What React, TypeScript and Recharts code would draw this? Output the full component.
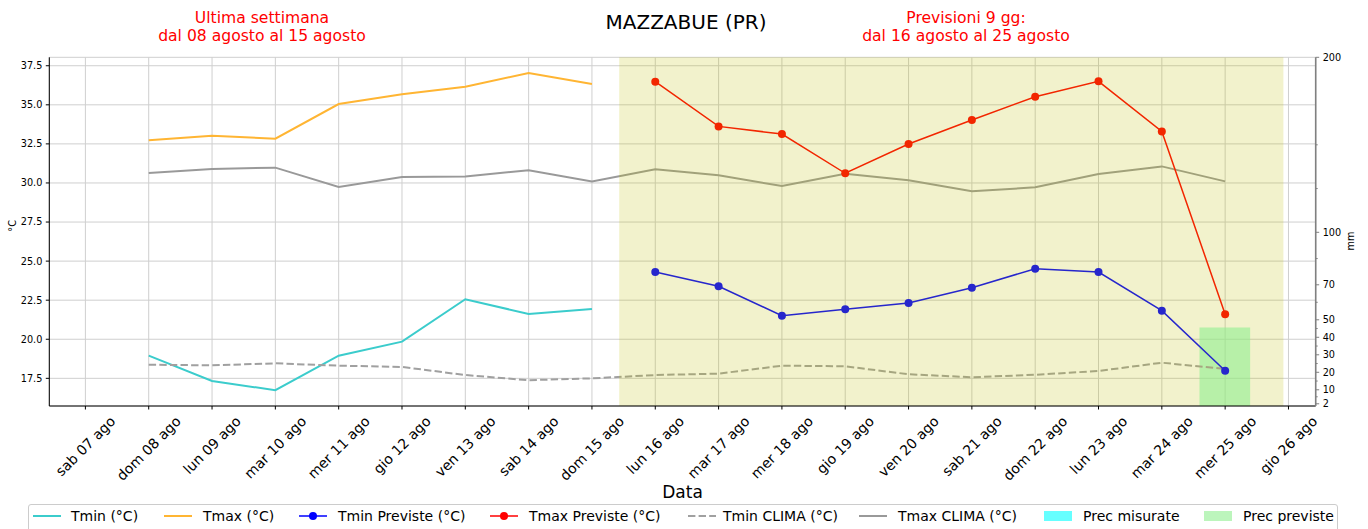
import React from 'react';
import { ComposedChart, Line, Bar, XAxis, YAxis, CartesianGrid, ReferenceArea } from 'recharts';

// ---- data ----
const days = [8, 9, 10, 11, 12, 13, 14, 15, 16, 17, 18, 19, 20, 21, 22, 23, 24, 25];
const tickDays = [7, 8, 9, 10, 11, 12, 13, 14, 15, 16, 17, 18, 19, 20, 21, 22, 23, 24, 25, 26];
const tickLabels = [
  'sab 07 ago', 'dom 08 ago', 'lun 09 ago', 'mar 10 ago', 'mer 11 ago', 'gio 12 ago', 'ven 13 ago',
  'sab 14 ago', 'dom 15 ago', 'lun 16 ago', 'mar 17 ago', 'mer 18 ago', 'gio 19 ago', 'ven 20 ago',
  'sab 21 ago', 'dom 22 ago', 'lun 23 ago', 'mar 24 ago', 'mer 25 ago', 'gio 26 ago',
];
const N = null;
const tmin = [18.95, 17.33, 16.74, 18.95, 19.85, 22.56, 21.62, 21.94, N, N, N, N, N, N, N, N, N, N];
const tmax = [32.73, 33.02, 32.83, 35.05, 35.67, 36.16, 37.03, 36.33, N, N, N, N, N, N, N, N, N, N];
const tminPrev = [N, N, N, N, N, N, N, N, 24.3, 23.39, 21.51, 21.92, 22.32, 23.3, 24.51, 24.3, 21.83, 17.99];
const tmaxPrev = [N, N, N, N, N, N, N, N, 36.48, 33.62, 33.13, 30.62, 32.49, 34.03, 35.52, 36.5, 33.3, 21.6];
const tminClima = [18.37, 18.33, 18.46, 18.31, 18.23, 17.71, 17.38, 17.5, 17.71, 17.8, 18.31, 18.27, 17.76, 17.57, 17.73, 17.97, 18.5, 18.1];
const tmaxClima = [30.64, 30.89, 30.98, 29.74, 30.38, 30.42, 30.81, 30.1, 30.87, 30.49, 29.8, 30.59, 30.17, 29.47, 29.72, 30.57, 31.06, 30.1];
const precMisurate = [0, 0, 0, 0, 0, 0, 0, 0, N, N, N, N, N, N, N, N, N, N];
const precPreviste = [N, N, N, N, N, N, N, N, 0, 0, 0, 0, 0, 0, 0, 0, 0, 45.6];

const leftTicks = [17.5, 20, 22.5, 25, 27.5, 30, 32.5, 35, 37.5];
const rightMajor = [2, 10, 20, 30, 40, 50, 70, 100, 200];
const rightMinor = [6, 15, 25, 35, 45, 60, 85, 125, 150];
const forecastStart = 15.43;
const forecastEnd = 25.92;

const data = days.map((d, i) => ({
  day: d,
  tmin: tmin[i],
  tmax: tmax[i],
  tminPrev: tminPrev[i],
  tmaxPrev: tmaxPrev[i],
  tminClima: tminClima[i],
  tmaxClima: tmaxClima[i],
  precMisurate: precMisurate[i],
  precPreviste: precPreviste[i],
}));

const FONT = '"DejaVu Sans", Verdana, sans-serif';

// plot geometry (for the shade boundary in the stroke gradient)
const PLOT_LEFT = 49.3;
const PLOT_RIGHT = 1315.7;
const X_MIN = 6.43;
const X_MAX = 26.43;
const shadeFrac = (PLOT_LEFT + ((forecastStart - X_MIN) / (X_MAX - X_MIN)) * (PLOT_RIGHT - PLOT_LEFT)) / 1368;

let ctx: CanvasRenderingContext2D | null = null;
function measure(text: string, size: number): number {
  if (!ctx) {
    const c = document.createElement('canvas');
    ctx = c.getContext('2d');
  }
  if (!ctx) return text.length * size * 0.55;
  ctx.font = `${size}px "DejaVu Sans"`;
  return ctx.measureText(text).width;
}

const XTick = (props: any) => {
  const { x, y, payload } = props;
  const idx = tickDays.indexOf(payload.value);
  const label = idx >= 0 ? tickLabels[idx] : '';
  const fs = 14;
  const L = measure(label, fs);
  const h = fs * 1.164;
  const half = ((L + h) * Math.SQRT1_2) / 2;
  const cy = y + half;
  return (
    <text
      x={x}
      y={cy}
      textAnchor="middle"
      dominantBaseline="central"
      transform={`rotate(-45 ${x} ${cy})`}
      fontSize={fs}
      fontFamily={FONT}
      fill="#000"
    >
      {label}
    </text>
  );
};

const RTick = (props: any) => {
  const { x, y, payload } = props;
  const v = payload.value;
  const major = rightMajor.includes(v);
  const ax = x - 7;
  return (
    <g>
      <line x1={ax} x2={ax + (major ? 3.5 : 2)} y1={y} y2={y} stroke="#808080" strokeWidth={1} />
      {major && (
        <text x={x} y={y} dominantBaseline="central" textAnchor="start" fontSize={9.7} fontFamily={FONT} fill="#000">
          {v}
        </text>
      )}
    </g>
  );
};

const legendItems = [
  { label: 'Tmin (°C)', kind: 'line', color: '#3bcccc', hx: 33, tx: 71 },
  { label: 'Tmax (°C)', kind: 'line', color: '#ffb533', hx: 164, tx: 203 },
  { label: 'Tmin Previste (°C)', kind: 'dot', color: '#0000ff', hx: 299, tx: 338 },
  { label: 'Tmax Previste (°C)', kind: 'dot', color: '#ff0000', hx: 490, tx: 529 },
  { label: 'Tmin CLIMA (°C)', kind: 'dash', color: '#a0a0a0', hx: 688, tx: 723 },
  { label: 'Tmax CLIMA (°C)', kind: 'line', color: '#999999', hx: 859, tx: 898 },
  { label: 'Prec misurate', kind: 'patch', color: 'rgba(0,255,255,0.6)', hx: 1044, tx: 1083 },
  { label: 'Prec previste', kind: 'patch', color: 'rgba(144,238,144,0.6)', hx: 1204, tx: 1243 },
];

export default function App() {
  return (
    <div
      style={{
        position: 'absolute',
        left: 0,
        top: 0,
        width: 1368,
        height: 529,
        background: '#fff',
        overflow: 'hidden',
        fontFamily: FONT,
      }}
    >
      <ComposedChart width={1368} height={529} data={data} margin={{ top: 57.3, right: 0, bottom: 0, left: 0 }}>
        <defs>
          <linearGradient id="gTmaxClima" gradientUnits="userSpaceOnUse" x1={0} y1={0} x2={1368} y2={0}>
            <stop offset={shadeFrac} stopColor="#999999" />
            <stop offset={shadeFrac} stopColor="#a1a17a" />
          </linearGradient>
          <linearGradient id="gTminClima" gradientUnits="userSpaceOnUse" x1={0} y1={0} x2={1368} y2={0}>
            <stop offset={shadeFrac} stopColor="#a0a0a0" />
            <stop offset={shadeFrac} stopColor="#a6a680" />
          </linearGradient>
        </defs>
        <CartesianGrid yAxisId="left" stroke="#cfcfcf" strokeWidth={1} />
        <XAxis
          dataKey="day"
          type="number"
          domain={[X_MIN, X_MAX]}
          allowDataOverflow
          ticks={tickDays}
          interval={0}
          height={123}
          tickSize={3.5}
          tickMargin={3.5}
          tick={<XTick />}
          tickLine={{ stroke: '#000' }}
          axisLine={{ stroke: '#000', strokeWidth: 1 }}
        />
        <XAxis
          xAxisId="top"
          orientation="top"
          type="number"
          dataKey="day"
          domain={[X_MIN, X_MAX]}
          allowDataOverflow
          height={0}
          tick={false}
          tickLine={false}
          axisLine={{ stroke: '#000', strokeWidth: 1 }}
        />
        <YAxis
          yAxisId="left"
          type="number"
          domain={[15.73, 38.04]}
          allowDataOverflow
          ticks={leftTicks}
          interval={0}
          width={PLOT_LEFT}
          tickSize={3.5}
          tickMargin={3.5}
          tickFormatter={(v: number) => v.toFixed(1)}
          tick={{ fontSize: 9.7, fill: '#000', fontFamily: FONT }}
          tickLine={{ stroke: '#000' }}
          axisLine={{ stroke: '#000', strokeWidth: 1 }}
          label={{ value: '°C', angle: -90, position: 'insideLeft', offset: 13, fontSize: 9.7, fill: '#000', fontFamily: FONT }}
        />
        <YAxis
          yAxisId="right"
          orientation="right"
          type="number"
          domain={[0.74, 200]}
          allowDataOverflow
          ticks={[...rightMajor, ...rightMinor].sort((a, b) => a - b)}
          interval={0}
          width={1368 - PLOT_RIGHT}
          tickSize={3.5}
          tickMargin={3.5}
          tick={<RTick />}
          tickLine={false}
          axisLine={{ stroke: '#808080', strokeWidth: 1.6 }}
          label={{ value: 'mm', angle: -90, position: 'insideRight', offset: 17, fontSize: 9.7, fill: '#000', fontFamily: FONT }}
        />
        <Bar yAxisId="right" dataKey="precMisurate" stackId="p" fill="#00ffff" fillOpacity={0.6} barSize={50.66} isAnimationActive={false} />
        <Bar yAxisId="right" dataKey="precPreviste" stackId="p" fill="#90ee90" fillOpacity={0.6} barSize={50.66} isAnimationActive={false} />
        <ReferenceArea
          yAxisId="left"
          x1={forecastStart}
          x2={forecastEnd}
          fill="#bfbf00"
          fillOpacity={0.2}
          stroke="none"
        />
        <Line yAxisId="left" dataKey="tmin" stroke="#3bcccc" strokeWidth={2} dot={false} isAnimationActive={false} />
        <Line yAxisId="left" dataKey="tmax" stroke="#ffb533" strokeWidth={2} dot={false} isAnimationActive={false} />
        <Line yAxisId="left" dataKey="tminClima" stroke="url(#gTminClima)" strokeWidth={2} strokeDasharray="7.4 3.2" dot={false} isAnimationActive={false} />
        <Line yAxisId="left" dataKey="tmaxClima" stroke="url(#gTmaxClima)" strokeWidth={2} dot={false} isAnimationActive={false} />
        <Line
          yAxisId="left"
          dataKey="tminPrev"
          stroke="#2626cc"
          strokeWidth={1.5}
          dot={{ r: 4, fill: '#2626cc', stroke: '#2626cc', strokeWidth: 0 }}
          isAnimationActive={false}
        />
        <Line
          yAxisId="left"
          dataKey="tmaxPrev"
          stroke="#f22600"
          strokeWidth={1.5}
          dot={{ r: 4, fill: '#f22600', stroke: '#f22600', strokeWidth: 0 }}
          isAnimationActive={false}
        />
      </ComposedChart>

      <svg
        width={1368}
        height={529}
        style={{ position: 'absolute', left: 0, top: 0, pointerEvents: 'none' }}
        fontFamily={FONT}
      >
        <text x={686} y={28.5} textAnchor="middle" fontSize={20} fill="#000">MAZZABUE (PR)</text>
        <text x={262} y={22.7} textAnchor="middle" fontSize={15.6} fill="#ff0000">Ultima settimana</text>
        <text x={262} y={41.3} textAnchor="middle" fontSize={15.6} fill="#ff0000">dal 08 agosto al 15 agosto</text>
        <text x={966} y={22.7} textAnchor="middle" fontSize={15.6} fill="#ff0000">Previsioni 9 gg:</text>
        <text x={966} y={41.3} textAnchor="middle" fontSize={15.6} fill="#ff0000">dal 16 agosto al 25 agosto</text>
        <text x={682.5} y={498} textAnchor="middle" fontSize={17} fill="#000">Data</text>
      </svg>

      <div
        style={{
          position: 'absolute',
          left: 28,
          top: 504,
          width: 1310,
          height: 34,
          border: '1px solid #cccccc',
          borderRadius: 3,
          background: '#fff',
          boxSizing: 'border-box',
        }}
      >
        <svg width={1310} height={34} style={{ position: 'absolute', left: -29, top: -1, overflow: 'visible' }} fontFamily={FONT}>
          {legendItems.map((it) => {
            const cy = 12;
            let handle: React.ReactNode = null;
            if (it.kind === 'line') {
              handle = <line x1={it.hx} x2={it.hx + 28} y1={cy} y2={cy} stroke={it.color} strokeWidth={2} />;
            } else if (it.kind === 'dash') {
              handle = <line x1={it.hx} x2={it.hx + 28} y1={cy} y2={cy} stroke={it.color} strokeWidth={2} strokeDasharray="7.4 3.2" />;
            } else if (it.kind === 'dot') {
              handle = (
                <g>
                  <line x1={it.hx} x2={it.hx + 28} y1={cy} y2={cy} stroke={it.color} strokeWidth={1.5} />
                  <circle cx={it.hx + 14} cy={cy} r={4} fill={it.color} />
                </g>
              );
            } else {
              handle = <rect x={it.hx} y={cy - 5} width={28} height={10} fill={it.color} />;
            }
            return (
              <g key={it.label}>
                {handle}
                <text x={it.tx} y={cy} dominantBaseline="central" fontSize={14} fill="#000">
                  {it.label}
                </text>
              </g>
            );
          })}
        </svg>
      </div>
    </div>
  );
}
